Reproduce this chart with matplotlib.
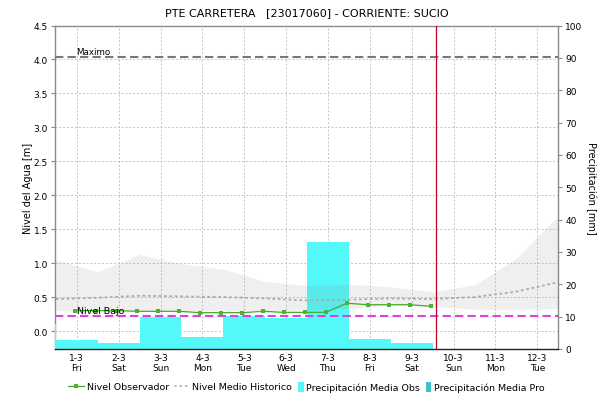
import matplotlib
matplotlib.use('Agg')
import matplotlib.pyplot as plt
from matplotlib.lines import Line2D
from matplotlib.patches import Patch
import numpy as np

plt.rcParams['font.family'] = ['DejaVu Sans']

# ---------------- data ----------------
title = "PTE CARRETERA   [23017060] - CORRIENTE: SUCIO"
day_pos = [0, 1, 2, 3, 4, 5, 6, 7, 8, 9, 10, 11]
day_labels = ["1-3\nFri", "2-3\nSat", "3-3\nSun", "4-3\nMon", "5-3\nTue", "6-3\nWed",
              "7-3\nThu", "8-3\nFri", "9-3\nSat", "10-3\nSun", "11-3\nMon", "12-3\nTue"]

# daily observed precipitation [mm] (day index, value)
precip_day = [-1, 0, 1, 2, 3, 4, 5, 6, 7, 8]
precip_obs = [7.7, 2.8, 1.9, 10.0, 3.6, 10.1, 9.6, 33.1, 3.1, 1.9]

# observed water level [m], every 12 h
obs_t = [-0.05, 0.45, 0.95, 1.45, 1.95, 2.45, 2.95, 3.45, 3.95,
         4.45, 4.95, 5.45, 5.95, 6.45, 6.95, 7.45, 7.95, 8.45]
obs_level = [0.30, 0.30, 0.30, 0.29, 0.29, 0.29, 0.27, 0.27, 0.27,
             0.29, 0.275, 0.275, 0.275, 0.41, 0.387, 0.387, 0.387, 0.365]

# historic level statistics [m]
hist_t = [-0.5, 0.5, 1.5, 2.5, 3.5, 4.5, 5.5, 6.5, 7.5, 8.5, 9.5, 10.5, 11.5]
hist_mean = [0.47, 0.49, 0.52, 0.51, 0.50, 0.48, 0.45, 0.46, 0.48, 0.47, 0.50, 0.58, 0.72]
hist_upper = [1.05, 0.87, 1.13, 0.99, 0.91, 0.73, 0.67, 0.69, 0.65, 0.58, 0.68, 1.07, 1.70]
hist_lower = [0.30, 0.30, 0.30, 0.30, 0.30, 0.30, 0.31, 0.33, 0.38, 0.36, 0.32, 0.32, 0.33]

nivel_maximo = 4.03
nivel_bajo = 0.22
now_t = 8.59

# ---------------- figure ----------------
W, H = 601, 402
fig = plt.figure(figsize=(W / 100, H / 100), dpi=100)
rect = [55 / W, 52 / H, 503.3 / W, 323.5 / H]
ax = fig.add_axes(rect)
axp = ax.twinx()
axl = ax.twinx()

gray = '#8A8A8A'
ax.set_xlim(-0.52, 11.5)
ax.set_ylim(-0.265, 4.5)
ax.set_yticks(np.arange(0, 4.51, 0.5))
ax.set_yticklabels([f"{v:.1f}" for v in np.arange(0, 4.51, 0.5)])
ax.set_xticks(day_pos)
ax.set_xticklabels(day_labels, linespacing=1.15)
ax.tick_params(axis='x', length=0, pad=3, labelsize=6.5)
ax.tick_params(axis='y', length=3, color=gray, pad=2, labelsize=6.5)
ax.grid(True, color='#C4C4C4', linestyle=(0, (2, 2)), linewidth=0.7)
ax.set_axisbelow(True)
for s in ['right', 'bottom']:
    ax.spines[s].set_visible(False)
for s in ['left', 'top']:
    ax.spines[s].set_color(gray)
    ax.spines[s].set_linewidth(1.0)
ax.set_ylabel("Nivel del Agua [m]", fontsize=7, labelpad=0.5)

# precipitation axis
axp.set_ylim(0, 100)
axp.set_yticks(np.arange(0, 101, 10))
axp.tick_params(axis='y', length=3, color=gray, pad=2, labelsize=6.5)
for s in ['left', 'top', 'bottom']:
    axp.spines[s].set_visible(False)
axp.spines['right'].set_color(gray)
axp.spines['right'].set_linewidth(1.0)
axp.bar(precip_day, precip_obs, width=1.0, align='center', color='#55F8F8', linewidth=0)
axp.set_ylabel("Precipitación [mm]", fontsize=7, rotation=270, labelpad=10)

# level overlay axis
axl.set_ylim(ax.get_ylim())
axl.set_yticks([])
for s in ['left', 'top', 'right']:
    axl.spines[s].set_visible(False)
axl.spines['bottom'].set_color('#202020')
axl.spines['bottom'].set_linestyle((0, (1, 1)))
axl.spines['bottom'].set_linewidth(1.0)

axl.fill_between(hist_t, hist_lower, hist_upper, color='#808080', alpha=0.12, linewidth=0)
axl.plot(hist_t, hist_mean, color='#ABABAB', linestyle=(0, (1.5, 1.5)), linewidth=1.3)
axl.axhline(nivel_maximo, color='#6E7888', linestyle=(0, (4, 2)), linewidth=1.5)
axl.axhline(nivel_bajo, color='#E040E0', linestyle=(0, (4, 2)), linewidth=1.5)
axl.axvline(now_t, color='#C00028', linewidth=0.9)
axl.plot(obs_t, obs_level, color='#48A828', linewidth=0.9, marker='s', markersize=2.8,
         markerfacecolor='#50B030', markeredgewidth=0)
axl.text(-0.02, nivel_maximo + 0.02, "Maximo", fontsize=6.3, ha='left', va='bottom')
axl.text(0.0, nivel_bajo + 0.015, "Nivel Bajo", fontsize=6.8, ha='left', va='bottom')

fig.text(0.51, 1 - 13 / H, title, fontsize=8, ha='center', va='center')

line_handles = [
    Line2D([], [], color='#48A828', linewidth=0.9, marker='s', markersize=2.8,
           markerfacecolor='#50B030', markeredgewidth=0),
    Line2D([], [], color='#BBBBBB', linestyle=(0, (1.5, 1.5)), linewidth=1.3),
]
line_labels = ["Nivel Observador", "Nivel Medio Historico"]
patch_handles = [
    Patch(facecolor='#55F8F8', edgecolor='none'),
    Patch(facecolor='#40C0C8', edgecolor='none'),
]
patch_labels = ["Precipitación Media Obs", "Precipitación Media Pro"]
ly = 1 - 388 / H
fig.legend(line_handles, line_labels, loc='center right', bbox_to_anchor=(292 / W, ly),
           ncol=2, frameon=False, fontsize=6.8, handlelength=1.7, handletextpad=0.25,
           columnspacing=0.5, borderpad=0, borderaxespad=0)
fig.legend(patch_handles, patch_labels, loc='center left', bbox_to_anchor=(298 / W, ly),
           ncol=2, frameon=False, fontsize=6.8, handlelength=0.6, handleheight=1.2,
           handletextpad=0.3, columnspacing=0.55, borderpad=0, borderaxespad=0)

fig.savefig('out.png', dpi=100)
